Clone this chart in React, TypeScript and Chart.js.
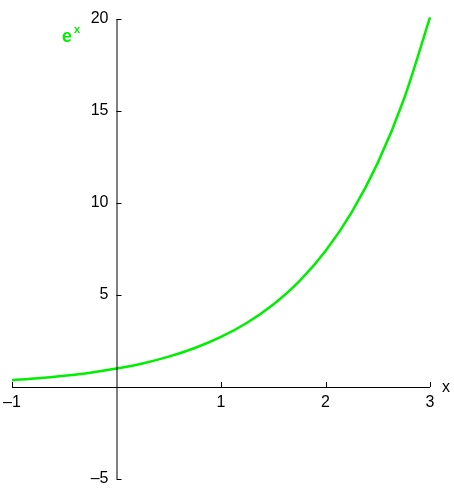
import React, { useEffect, useRef } from 'react'
import { Chart, registerables } from 'chart.js'

Chart.register(...registerables)

// values
const xValues = [-1, -0.75, -0.5, -0.25, 0, 0.25, 0.5, 0.75, 1, 1.25, 1.5, 1.75, 2, 2.25, 2.5, 2.75, 3]
const yValues = [0.37, 0.47, 0.61, 0.78, 1.0, 1.28, 1.65, 2.12, 2.72, 3.49, 4.48, 5.75, 7.39, 9.49, 12.18, 15.64, 20.09]

const xTicks = [-1, 1, 2, 3]
const yTicks = [-5, 5, 10, 15, 20]

const fmt = (v: number) => (v < 0 ? '\u2013' + Math.abs(v) : String(v))

const crossAxes = {
  id: 'crossAxes',
  afterDatasetsDraw(chart: any) {
    const { ctx, scales } = chart
    const xs = scales.x
    const ys = scales.y
    const x0 = xs.getPixelForValue(0)
    const y0 = ys.getPixelForValue(0)
    ctx.save()
    ctx.strokeStyle = '#000'
    ctx.lineWidth = 1
    ctx.beginPath()
    ctx.moveTo(xs.getPixelForValue(xs.min), y0 + 0.5)
    ctx.lineTo(xs.getPixelForValue(xs.max), y0 + 0.5)
    ctx.moveTo(x0 + 0.5, ys.getPixelForValue(ys.min))
    ctx.lineTo(x0 + 0.5, ys.getPixelForValue(ys.max))
    xTicks.forEach((t) => {
      const p = Math.round(xs.getPixelForValue(t)) + 0.5
      ctx.moveTo(p, y0)
      ctx.lineTo(p, y0 - 5)
    })
    yTicks.forEach((t) => {
      const p = Math.round(ys.getPixelForValue(t)) + 0.5
      ctx.moveTo(x0, p)
      ctx.lineTo(x0 + 5, p)
    })
    ctx.stroke()

    ctx.fillStyle = '#000'
    ctx.font = '16px "Liberation Sans", Arial, sans-serif'
    ctx.textBaseline = 'middle'
    ctx.textAlign = 'center'
    xTicks.forEach((t) => {
      ctx.fillText(fmt(t), xs.getPixelForValue(t), y0 + 16)
    })
    ctx.textAlign = 'right'
    yTicks.forEach((t) => {
      ctx.fillText(fmt(t), x0 - 8, ys.getPixelForValue(t))
    })
    ctx.textAlign = 'left'
    ctx.fillText('x', xs.getPixelForValue(xs.max) + 12, y0 + 1)

    ctx.fillStyle = '#00ee00'
    ctx.font = 'bold 18px "Liberation Sans", Arial, sans-serif'
    ctx.fillText('e', 62, 37)
    ctx.font = 'bold 11px "Liberation Sans", Arial, sans-serif'
    ctx.fillText('x', 74, 30)
    ctx.restore()
  },
}

export default function App() {
  const ref = useRef<HTMLCanvasElement | null>(null)

  useEffect(() => {
    if (!ref.current) return
    const chart = new Chart(ref.current, {
      type: 'line',
      data: {
        datasets: [
          {
            label: 'e^x',
            data: xValues.map((x, i) => ({ x, y: yValues[i] })),
            borderColor: '#00ee00',
            borderWidth: 2.5,
            pointRadius: 0,
            tension: 0.4,
            cubicInterpolationMode: 'monotone',
            fill: false,
            clip: false,
          },
        ],
      },
      options: {
        animation: false,
        responsive: false,
        devicePixelRatio: 1,
        layout: { padding: { left: 12, right: 24, top: 19, bottom: 21 } },
        plugins: { legend: { display: false }, tooltip: { enabled: false } },
        scales: {
          x: { type: 'linear', min: -1, max: 3, display: false },
          y: { type: 'linear', min: -5, max: 20, display: false },
        },
      },
      plugins: [crossAxes],
    })
    return () => chart.destroy()
  }, [])

  return (
    <div style={{ position: 'absolute', left: 0, top: 0, width: 454, height: 500, background: '#fff' }}>
      <canvas ref={ref} width={454} height={500} />
    </div>
  )
}
